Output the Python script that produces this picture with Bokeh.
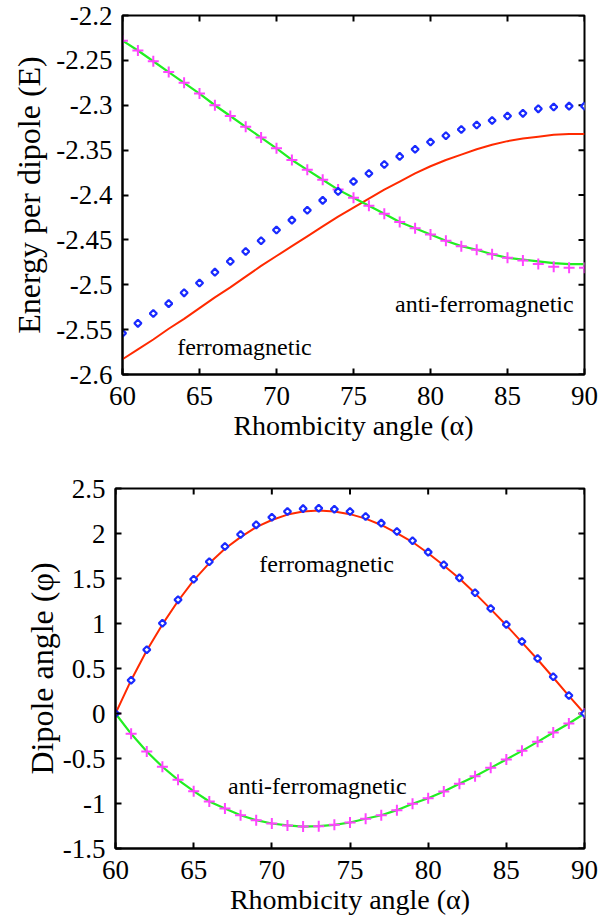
import math
from bokeh.plotting import figure
from bokeh.models import (Range1d, FixedTicker, CustomJSTickFormatter, Label)
from bokeh.embed import file_html
from bokeh.resources import INLINE

# ---------------- data ----------------
alpha = list(range(60, 91))
x_ticks = [60, 65, 70, 75, 80, 85, 90]
y_ticks_top = [-2.6, -2.55, -2.5, -2.45, -2.4, -2.35, -2.3, -2.25, -2.2]
y_ticks_bot = [-1.5, -1.0, -0.5, 0.0, 0.5, 1.0, 1.5, 2.0, 2.5]

# Top panel: energy per dipole
energy_ferro_line = [-2.583, -2.572, -2.561, -2.549, -2.538, -2.526, -2.514, -2.503, -2.491, -2.479,
                     -2.468, -2.457, -2.446, -2.435, -2.424, -2.414, -2.404, -2.394, -2.385, -2.376,
                     -2.368, -2.361, -2.355, -2.349, -2.344, -2.340, -2.337, -2.335, -2.333, -2.332, -2.332]
energy_ferro_pts = [-2.554, -2.543, -2.532, -2.521, -2.509, -2.498, -2.486, -2.474, -2.463, -2.451,
                    -2.439, -2.428, -2.417, -2.406, -2.396, -2.385, -2.376, -2.366, -2.357, -2.349,
                    -2.341, -2.334, -2.327, -2.322, -2.317, -2.312, -2.309, -2.304, -2.302, -2.301, -2.301]
energy_anti_line = [-2.228, -2.239, -2.251, -2.263, -2.275, -2.287, -2.300, -2.312, -2.324, -2.336,
                    -2.348, -2.361, -2.372, -2.383, -2.394, -2.403, -2.412, -2.421, -2.430, -2.437,
                    -2.444, -2.451, -2.457, -2.461, -2.466, -2.470, -2.472, -2.474, -2.476, -2.477, -2.477]
energy_anti_pts = [-2.228, -2.239, -2.251, -2.263, -2.275, -2.287, -2.300, -2.312, -2.324, -2.336,
                   -2.348, -2.361, -2.372, -2.383, -2.394, -2.403, -2.412, -2.421, -2.430, -2.437,
                   -2.444, -2.451, -2.457, -2.461, -2.466, -2.470, -2.473, -2.477, -2.480, -2.481, -2.481]

# Bottom panel: dipole angle
phi_ferro_line = [0.0, 0.37, 0.70, 0.99, 1.25, 1.48, 1.67, 1.83, 1.96, 2.07,
                  2.15, 2.21, 2.245, 2.255, 2.245, 2.215, 2.165, 2.095, 2.005, 1.905,
                  1.78, 1.645, 1.50, 1.335, 1.16, 0.98, 0.79, 0.60, 0.40, 0.195, 0.0]
phi_ferro_pts = [0.0, 0.37, 0.708, 1.003, 1.263, 1.492, 1.686, 1.856, 1.989, 2.096,
                 2.181, 2.244, 2.276, 2.281, 2.270, 2.244, 2.189, 2.115, 2.022, 1.919,
                 1.793, 1.652, 1.507, 1.341, 1.167, 0.989, 0.80, 0.611, 0.408, 0.20, 0.0]
phi_anti = [0.0, -0.226, -0.422, -0.592, -0.737, -0.863, -0.978, -1.056, -1.130, -1.185,
            -1.222, -1.244, -1.256, -1.252, -1.237, -1.211, -1.170, -1.130, -1.074, -1.003,
            -0.941, -0.867, -0.781, -0.697, -0.604, -0.511, -0.415, -0.315, -0.211, -0.111, 0.0]

x_label = "Rhombicity angle (\u03b1)"
y_label_top = "Energy per dipole (E)"
y_label_bot = "Dipole angle (\u03c6)"

# ---------------- style ----------------
FONT = "Liberation Serif"
RED = "#ff2a00"
GREEN = "#22ee22"
BLUE = "#1a2bff"
PINK = "#ff44ff"

fmt_code = "return String(Math.round(tick*100)/100);"


def style(p, yticks, ylab_standoff):
    p.xaxis.ticker = FixedTicker(ticks=x_ticks)
    p.yaxis.ticker = FixedTicker(ticks=yticks)
    p.xgrid.visible = False
    p.ygrid.visible = False
    p.outline_line_color = "black"
    p.outline_line_width = 2
    for ax in (p.xaxis[0], p.yaxis[0]):
        ax.formatter = CustomJSTickFormatter(code=fmt_code)
        ax.major_tick_in = 6
        ax.major_tick_out = 0
        ax.minor_tick_in = 0
        ax.minor_tick_out = 0
        ax.axis_line_width = 2
        ax.major_tick_line_width = 2
        ax.major_label_text_font = FONT
        ax.major_label_text_font_size = "27px"
        ax.major_label_text_color = "black"
        ax.axis_label_text_font = FONT
        ax.axis_label_text_font_style = "normal"
        ax.axis_label_text_color = "black"
    p.xaxis.axis_label = x_label
    p.xaxis.axis_label_text_font_size = "28px"
    p.yaxis.axis_label_text_font_size = "32px"
    p.xaxis.major_label_standoff = 12
    p.xaxis.axis_label_standoff = 2
    p.yaxis.major_label_standoff = 10
    p.yaxis.axis_label_standoff = ylab_standoff
    # mirrored inside ticks on the top and right edges (clipped to the frame)
    xr, yr = p.x_range, p.y_range
    p.scatter([xr.end] * len(yticks), yticks, marker="dash", size=12,
              line_color="black", line_width=2)
    p.scatter(x_ticks, [yr.end] * len(x_ticks), marker="dash", angle=math.pi / 2, size=12,
              line_color="black", line_width=2)


# ---------------- top panel ----------------
p1 = figure(frame_width=462, frame_height=359, x_range=Range1d(60, 90), y_range=Range1d(-2.6, -2.2),
            output_backend="svg", toolbar_location=None,
            min_border_left=122, min_border_right=24, min_border_top=15, min_border_bottom=85)
p1.yaxis.axis_label = y_label_top
style(p1, y_ticks_top, 6)
p1.line(alpha, energy_ferro_line, line_color=RED, line_width=2)
p1.line(alpha, energy_anti_line, line_color=GREEN, line_width=2.2)
p1.scatter(alpha, energy_anti_pts, marker="cross", size=11, line_color=PINK, line_width=2)
p1.scatter(alpha, energy_ferro_pts, marker="square", angle=math.pi / 4, size=5,
           line_color=BLUE, fill_color="white", line_width=2.2)
p1.add_layout(Label(x=63.55, y=-2.5697, text="ferromagnetic", text_font=FONT,
                    text_font_size="24px", text_baseline="alphabetic", text_color="black"))
p1.add_layout(Label(x=77.7, y=-2.521, text="anti-ferromagnetic", text_font=FONT,
                    text_font_size="24px", text_baseline="alphabetic", text_color="black"))

# ---------------- bottom panel ----------------
p2 = figure(frame_width=469, frame_height=360, x_range=Range1d(60, 90), y_range=Range1d(-1.5, 2.5),
            output_backend="svg", toolbar_location=None,
            min_border_left=115, min_border_right=24, min_border_top=29, min_border_bottom=60)
p2.yaxis.axis_label = y_label_bot
style(p2, y_ticks_bot, 0)
p2.line(alpha, phi_ferro_line, line_color=RED, line_width=2)
p2.line(alpha, phi_anti, line_color=GREEN, line_width=2.2)
p2.scatter(alpha, phi_anti, marker="cross", size=11, line_color=PINK, line_width=2)
p2.scatter(alpha, phi_ferro_pts, marker="square", angle=math.pi / 4, size=5,
           line_color=BLUE, fill_color="white", line_width=2.2)
p2.add_layout(Label(x=69.2, y=1.656, text="ferromagnetic", text_font=FONT,
                    text_font_size="24px", text_baseline="alphabetic", text_color="black"))
p2.add_layout(Label(x=67.2, y=-0.811, text="anti-ferromagnetic", text_font=FONT,
                    text_font_size="24px", text_baseline="alphabetic", text_color="black"))

# two independent roots, so the two frames are not forced to share a left edge
open("out.html", "w").write(file_html([p1, p2], INLINE))
